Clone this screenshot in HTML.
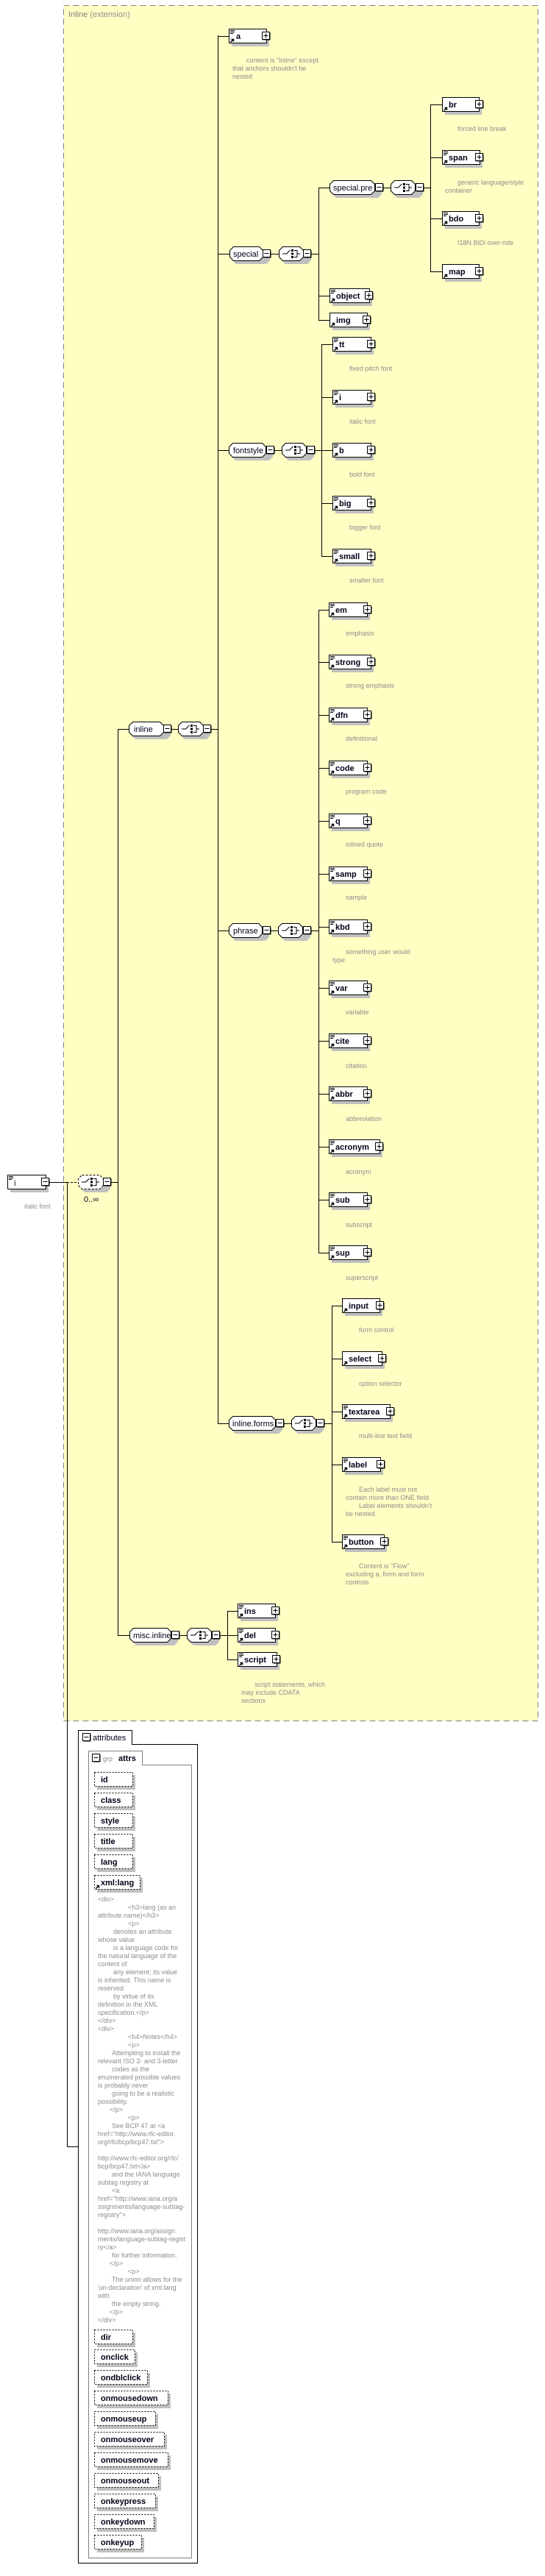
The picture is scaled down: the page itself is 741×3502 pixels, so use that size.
<!DOCTYPE html>
<html><head><meta charset="utf-8"><style>
html,body{margin:0;padding:0;background:#fff;}
svg{display:block;}
.n{font:bold 11px "Liberation Sans",sans-serif;fill:#000018;}
.g{font:11px "Liberation Sans",sans-serif;fill:#000018;}
.c{font:9px "Liberation Sans",sans-serif;fill:#8c8c8c;}
.t{font:11px "Liberation Sans",sans-serif;fill:#808080;}
</style></head><body>
<svg width="741" height="3502" viewBox="0 0 741 3502" xmlns="http://www.w3.org/2000/svg">
<defs>
<g id="plus"><rect x="1.5" y="1.5" width="10" height="10" fill="#000"/><rect x="0.5" y="0.5" width="10" height="10" fill="#fff" stroke="#000"/><path d="M2.5 5.5h6M5.5 2.5v6" stroke="#000"/></g>
<g id="minus"><rect x="1.5" y="1.5" width="10" height="10" fill="#000"/><rect x="0.5" y="0.5" width="10" height="10" fill="#fff" stroke="#000"/><path d="M2.5 5.5h6" stroke="#000"/></g>
<g id="doc"><path d="M2 2.5h6M2 4.5h6M2 6.5h4" stroke="#000"/></g>
<g id="arr"><path d="M2.5 18.5l4-4M3.5 14.5h3v3" stroke="#000" fill="none" stroke-width="1.5"/></g>
<g id="cho"><path d="M1 10h5.5l5-5" stroke="#000" fill="none"/><rect x="13" y="4" width="3" height="3"/><rect x="13" y="8.5" width="3" height="3"/><rect x="13" y="13" width="3" height="3"/><path d="M17 5.5h4v9h-4M21 10h4" stroke="#000" fill="none"/></g>
</defs>

<!-- yellow extension box -->
<rect x="86.5" y="7.5" width="645" height="2332" fill="#ffffc4" stroke="#808080" stroke-dasharray="8,5"/>
<text x="93" y="23" class="t">Inline <tspan fill="#909090">(extension)</tspan></text>

<g stroke="#000" fill="none">
<!-- root connections -->
<path d="M67 1607.5H91M91.5 1607V2918.5H106"/>
<path d="M91 1607.5h15" stroke-dasharray="3,2"/>
<path d="M151 1607.5h9M160.5 991V2223M160 991.5h15M160 2223.5h16"/>
<!-- inline -->
<path d="M233 991.5h9M287 991.5h9M296.5 48V1935M296 49.5h15M296 345.5h16M296 612.5h15M296 1265.5h15M296 1935.5h15"/>
<!-- special -->
<path d="M368 345.5h11M423 345.5h10M433.5 255V435M433 255.5h15M433 402.5h15M433 435.5h15"/>
<path d="M521 255.5h10M576 255.5h9M585.5 142V369M585 142.5h16M585 214.5h16M585 297.5h16M585 369.5h16"/>
<!-- fontstyle -->
<path d="M373 612.5h10M428 612.5h9M437.5 468V756M437 468.5h15M437 540.5h15M437 612.5h15M437 684.5h15M437 756.5h15"/>
<!-- phrase -->
<path d="M368 1265.5h10M423 1265.5h10M433.5 829V1703M433 829.5h14M433 900.5h14M433 972.5h14M433 1044.5h14M433 1116.5h14M433 1188.5h14M433 1260.5h14M433 1343.5h14M433 1415.5h14M433 1487.5h14M433 1559.5h14M433 1631.5h14M433 1703.5h14"/>
<!-- inline.forms -->
<path d="M386 1935.5h10M441 1935.5h10M451.5 1775V2096M451 1775.5h14M451 1847.5h14M451 1919.5h14M451 1991.5h14M451 2096.5h14"/>
<!-- misc.inline -->
<path d="M244 2223.5h10M299 2223.5h10M309.5 2190V2256M309 2190.5h14M309 2223.5h14M309 2256.5h14"/>
</g>

<!-- root i -->
<g transform="translate(10,1597)"><rect x="4" y="4" width="52" height="20" fill="#c0c0c0"/><rect x="0.5" y="0.5" width="52" height="19" fill="#fff" stroke="#000"/><use href="#doc"/><text x="9" y="15" class="g" font-size="12">i</text><use href="#minus" x="46" y="4"/></g>
<text x="33" y="1643" class="c" fill="#7a9ac0">italic font</text>
<!-- root choice dashed -->
<g transform="translate(106,1597)"><path d="M9 4h30l5 5v10l-5 5H9l-5-5V9z" fill="#c0c0c0"/><path d="M5.5 0.5h24l5 5v9l-5 5h-24l-5-5v-9z" fill="#fff" stroke="#000" stroke-dasharray="3,2"/><use href="#cho" x="4"/><use href="#minus" x="34" y="4"/></g>
<text x="114" y="1634" class="g" font-size="10">0..∞</text>

<!-- model group octagons -->
<g transform="translate(175,981)"><path d="M9 4h43l5 5v10l-5 5H9l-5-5V9z" fill="#c0c0c0"/><path d="M5.5 0.5h37l5 5v9l-5 5h-37l-5-5v-9z" fill="#fff" stroke="#000"/><text x="7" y="14" class="g">inline</text><use href="#minus" x="47" y="4"/></g>
<g transform="translate(242,981)"><path d="M9 4h30l5 5v10l-5 5H9l-5-5V9z" fill="#c0c0c0"/><path d="M5.5 0.5h24l5 5v9l-5 5h-24l-5-5v-9z" fill="#fff" stroke="#000"/><use href="#cho" x="4"/><use href="#minus" x="34" y="4"/></g>

<g transform="translate(312,335)"><path d="M9 4h41l5 5v10l-5 5H9l-5-5V9z" fill="#c0c0c0"/><path d="M5.5 0.5h35l5 5v9l-5 5h-35l-5-5v-9z" fill="#fff" stroke="#000"/><text x="5" y="14" class="g">special</text><use href="#minus" x="45" y="4"/></g>
<g transform="translate(379,335)"><path d="M9 4h30l5 5v10l-5 5H9l-5-5V9z" fill="#c0c0c0"/><path d="M5.5 0.5h23l5 5v9l-5 5h-23l-5-5v-9z" fill="#fff" stroke="#000"/><use href="#cho" x="4"/><use href="#minus" x="33" y="4"/></g>

<g transform="translate(448,245)"><path d="M9 4h57l5 5v10l-5 5H9l-5-5V9z" fill="#c0c0c0"/><path d="M5.5 0.5h51l5 5v9l-5 5h-51l-5-5v-9z" fill="#fff" stroke="#000"/><text x="5" y="14" class="g">special.pre</text><use href="#minus" x="62" y="4"/></g>
<g transform="translate(531,245)"><path d="M9 4h30l5 5v10l-5 5H9l-5-5V9z" fill="#c0c0c0"/><path d="M5.5 0.5h23l5 5v9l-5 5h-23l-5-5v-9z" fill="#fff" stroke="#000"/><use href="#cho" x="4"/><use href="#minus" x="34" y="4"/></g>

<g transform="translate(311,602)"><path d="M9 4h46l5 5v10l-5 5H9l-5-5V9z" fill="#c0c0c0"/><path d="M5.5 0.5h40l5 5v9l-5 5h-40l-5-5v-9z" fill="#fff" stroke="#000"/><text x="6" y="14" class="g">fontstyle</text><use href="#minus" x="51" y="4"/></g>
<g transform="translate(383,602)"><path d="M9 4h30l5 5v10l-5 5H9l-5-5V9z" fill="#c0c0c0"/><path d="M5.5 0.5h23l5 5v9l-5 5h-23l-5-5v-9z" fill="#fff" stroke="#000"/><use href="#cho" x="4"/><use href="#minus" x="34" y="4"/></g>

<g transform="translate(311,1255)"><path d="M9 4h41l5 5v10l-5 5H9l-5-5V9z" fill="#c0c0c0"/><path d="M5.5 0.5h35l5 5v9l-5 5h-35l-5-5v-9z" fill="#fff" stroke="#000"/><text x="6" y="14" class="g">phrase</text><use href="#minus" x="46" y="4"/></g>
<g transform="translate(378,1255)"><path d="M9 4h30l5 5v10l-5 5H9l-5-5V9z" fill="#c0c0c0"/><path d="M5.5 0.5h23l5 5v9l-5 5h-23l-5-5v-9z" fill="#fff" stroke="#000"/><use href="#cho" x="4"/><use href="#minus" x="34" y="4"/></g>

<g transform="translate(311,1925)"><path d="M9 4h59l5 5v10l-5 5H9l-5-5V9z" fill="#c0c0c0"/><path d="M5.5 0.5h53l5 5v9l-5 5h-53l-5-5v-9z" fill="#fff" stroke="#000"/><text x="5" y="14" class="g">inline.forms</text><use href="#minus" x="64" y="4"/></g>
<g transform="translate(396,1925)"><path d="M9 4h30l5 5v10l-5 5H9l-5-5V9z" fill="#c0c0c0"/><path d="M5.5 0.5h23l5 5v9l-5 5h-23l-5-5v-9z" fill="#fff" stroke="#000"/><use href="#cho" x="4"/><use href="#minus" x="34" y="4"/></g>

<g transform="translate(176,2213)"><path d="M9 4h52l5 5v10l-5 5H9l-5-5V9z" fill="#c0c0c0"/><path d="M5.5 0.5h46l5 5v9l-5 5h-46l-5-5v-9z" fill="#fff" stroke="#000"/><text x="5" y="14" class="g">misc.inline</text><use href="#minus" x="57" y="4"/></g>
<g transform="translate(254,2213)"><path d="M9 4h30l5 5v10l-5 5H9l-5-5V9z" fill="#c0c0c0"/><path d="M5.5 0.5h23l5 5v9l-5 5h-23l-5-5v-9z" fill="#fff" stroke="#000"/><use href="#cho" x="4"/><use href="#minus" x="34" y="4"/></g>

<!-- elements -->
<g transform="translate(311,39)"><rect x="4" y="4" width="51" height="20" fill="#c0c0c0"/><rect x="0.5" y="0.5" width="51" height="19" fill="#fff" stroke="#000"/><use href="#doc"/><use href="#arr"/><text x="10" y="14" class="n">a</text><use href="#plus" x="45" y="4"/></g>
<g transform="translate(601,132)"><rect x="4" y="4" width="50" height="20" fill="#c0c0c0"/><rect x="0.5" y="0.5" width="50" height="19" fill="#fff" stroke="#000"/><use href="#arr"/><text x="9" y="14" class="n">br</text><use href="#plus" x="45" y="4"/></g>
<g transform="translate(601,204)"><rect x="4" y="4" width="51" height="20" fill="#c0c0c0"/><rect x="0.5" y="0.5" width="51" height="19" fill="#fff" stroke="#000"/><use href="#doc"/><use href="#arr"/><text x="9" y="14" class="n">span</text><use href="#plus" x="45" y="4"/></g>
<g transform="translate(601,287)"><rect x="4" y="4" width="50" height="20" fill="#c0c0c0"/><rect x="0.5" y="0.5" width="50" height="19" fill="#fff" stroke="#000"/><use href="#doc"/><use href="#arr"/><text x="9" y="14" class="n">bdo</text><use href="#plus" x="45" y="4"/></g>
<g transform="translate(601,359)"><rect x="4" y="4" width="50" height="20" fill="#c0c0c0"/><rect x="0.5" y="0.5" width="50" height="19" fill="#fff" stroke="#000"/><use href="#arr"/><text x="9" y="14" class="n">map</text><use href="#plus" x="45" y="4"/></g>
<g transform="translate(448,392)"><rect x="4" y="4" width="54" height="20" fill="#c0c0c0"/><rect x="0.5" y="0.5" width="54" height="19" fill="#fff" stroke="#000"/><use href="#doc"/><use href="#arr"/><text x="9" y="14" class="n">object</text><use href="#plus" x="48" y="4"/></g>
<g transform="translate(448,425)"><rect x="4" y="4" width="51" height="20" fill="#c0c0c0"/><rect x="0.5" y="0.5" width="51" height="19" fill="#fff" stroke="#000"/><use href="#arr"/><text x="9" y="14" class="n">img</text><use href="#plus" x="45" y="4"/></g>

<g transform="translate(452,458)"><rect x="4" y="4" width="52" height="20" fill="#c0c0c0"/><rect x="0.5" y="0.5" width="52" height="19" fill="#fff" stroke="#000"/><use href="#doc"/><use href="#arr"/><text x="9" y="14" class="n">tt</text><use href="#plus" x="47" y="4"/></g>
<g transform="translate(452,530)"><rect x="4" y="4" width="52" height="20" fill="#c0c0c0"/><rect x="0.5" y="0.5" width="52" height="19" fill="#fff" stroke="#000"/><use href="#doc"/><use href="#arr"/><text x="9" y="14" class="n">i</text><use href="#plus" x="47" y="4"/></g>
<g transform="translate(452,602)"><rect x="4" y="4" width="52" height="20" fill="#c0c0c0"/><rect x="0.5" y="0.5" width="52" height="19" fill="#fff" stroke="#000"/><use href="#doc"/><use href="#arr"/><text x="9" y="14" class="n">b</text><use href="#plus" x="47" y="4"/></g>
<g transform="translate(452,674)"><rect x="4" y="4" width="52" height="20" fill="#c0c0c0"/><rect x="0.5" y="0.5" width="52" height="19" fill="#fff" stroke="#000"/><use href="#doc"/><use href="#arr"/><text x="9" y="14" class="n">big</text><use href="#plus" x="47" y="4"/></g>
<g transform="translate(452,746)"><rect x="4" y="4" width="52" height="20" fill="#c0c0c0"/><rect x="0.5" y="0.5" width="52" height="19" fill="#fff" stroke="#000"/><use href="#doc"/><use href="#arr"/><text x="9" y="14" class="n">small</text><use href="#plus" x="47" y="4"/></g>

<g transform="translate(447,819)"><rect x="4" y="4" width="52" height="20" fill="#c0c0c0"/><rect x="0.5" y="0.5" width="52" height="19" fill="#fff" stroke="#000"/><use href="#doc"/><use href="#arr"/><text x="9" y="14" class="n">em</text><use href="#plus" x="47" y="4"/></g>
<g transform="translate(447,890)"><rect x="4" y="4" width="57" height="20" fill="#c0c0c0"/><rect x="0.5" y="0.5" width="57" height="19" fill="#fff" stroke="#000"/><use href="#doc"/><use href="#arr"/><text x="9" y="14" class="n">strong</text><use href="#plus" x="52" y="4"/></g>
<g transform="translate(447,962)"><rect x="4" y="4" width="52" height="20" fill="#c0c0c0"/><rect x="0.5" y="0.5" width="52" height="19" fill="#fff" stroke="#000"/><use href="#doc"/><use href="#arr"/><text x="9" y="14" class="n">dfn</text><use href="#plus" x="47" y="4"/></g>
<g transform="translate(447,1034)"><rect x="4" y="4" width="52" height="20" fill="#c0c0c0"/><rect x="0.5" y="0.5" width="52" height="19" fill="#fff" stroke="#000"/><use href="#doc"/><use href="#arr"/><text x="9" y="14" class="n">code</text><use href="#plus" x="47" y="4"/></g>
<g transform="translate(447,1106)"><rect x="4" y="4" width="52" height="20" fill="#c0c0c0"/><rect x="0.5" y="0.5" width="52" height="19" fill="#fff" stroke="#000"/><use href="#doc"/><use href="#arr"/><text x="9" y="14" class="n">q</text><use href="#plus" x="47" y="4"/></g>
<g transform="translate(447,1178)"><rect x="4" y="4" width="52" height="20" fill="#c0c0c0"/><rect x="0.5" y="0.5" width="52" height="19" fill="#fff" stroke="#000"/><use href="#doc"/><use href="#arr"/><text x="9" y="14" class="n">samp</text><use href="#plus" x="47" y="4"/></g>
<g transform="translate(447,1250)"><rect x="4" y="4" width="52" height="20" fill="#c0c0c0"/><rect x="0.5" y="0.5" width="52" height="19" fill="#fff" stroke="#000"/><use href="#doc"/><use href="#arr"/><text x="9" y="14" class="n">kbd</text><use href="#plus" x="47" y="4"/></g>
<g transform="translate(447,1333)"><rect x="4" y="4" width="52" height="20" fill="#c0c0c0"/><rect x="0.5" y="0.5" width="52" height="19" fill="#fff" stroke="#000"/><use href="#doc"/><use href="#arr"/><text x="9" y="14" class="n">var</text><use href="#plus" x="47" y="4"/></g>
<g transform="translate(447,1405)"><rect x="4" y="4" width="52" height="20" fill="#c0c0c0"/><rect x="0.5" y="0.5" width="52" height="19" fill="#fff" stroke="#000"/><use href="#doc"/><use href="#arr"/><text x="9" y="14" class="n">cite</text><use href="#plus" x="47" y="4"/></g>
<g transform="translate(447,1477)"><rect x="4" y="4" width="52" height="20" fill="#c0c0c0"/><rect x="0.5" y="0.5" width="52" height="19" fill="#fff" stroke="#000"/><use href="#doc"/><use href="#arr"/><text x="9" y="14" class="n">abbr</text><use href="#plus" x="47" y="4"/></g>
<g transform="translate(447,1549)"><rect x="4" y="4" width="69" height="20" fill="#c0c0c0"/><rect x="0.5" y="0.5" width="69" height="19" fill="#fff" stroke="#000"/><use href="#doc"/><use href="#arr"/><text x="9" y="14" class="n">acronym</text><use href="#plus" x="63" y="4"/></g>
<g transform="translate(447,1621)"><rect x="4" y="4" width="52" height="20" fill="#c0c0c0"/><rect x="0.5" y="0.5" width="52" height="19" fill="#fff" stroke="#000"/><use href="#doc"/><use href="#arr"/><text x="9" y="14" class="n">sub</text><use href="#plus" x="47" y="4"/></g>
<g transform="translate(447,1693)"><rect x="4" y="4" width="52" height="20" fill="#c0c0c0"/><rect x="0.5" y="0.5" width="52" height="19" fill="#fff" stroke="#000"/><use href="#doc"/><use href="#arr"/><text x="9" y="14" class="n">sup</text><use href="#plus" x="47" y="4"/></g>

<g transform="translate(465,1765)"><rect x="4" y="4" width="51" height="20" fill="#c0c0c0"/><rect x="0.5" y="0.5" width="51" height="19" fill="#fff" stroke="#000"/><use href="#arr"/><text x="9" y="14" class="n">input</text><use href="#plus" x="46" y="4"/></g>
<g transform="translate(465,1837)"><rect x="4" y="4" width="54" height="20" fill="#c0c0c0"/><rect x="0.5" y="0.5" width="54" height="19" fill="#fff" stroke="#000"/><use href="#arr"/><text x="9" y="14" class="n">select</text><use href="#plus" x="49" y="4"/></g>
<g transform="translate(465,1909)"><rect x="4" y="4" width="65" height="20" fill="#c0c0c0"/><rect x="0.5" y="0.5" width="65" height="19" fill="#fff" stroke="#000"/><use href="#doc"/><use href="#arr"/><text x="9" y="14" class="n">textarea</text><use href="#plus" x="60" y="4"/></g>
<g transform="translate(465,1981)"><rect x="4" y="4" width="52" height="20" fill="#c0c0c0"/><rect x="0.5" y="0.5" width="52" height="19" fill="#fff" stroke="#000"/><use href="#doc"/><use href="#arr"/><text x="9" y="14" class="n">label</text><use href="#plus" x="47" y="4"/></g>
<g transform="translate(465,2086)"><rect x="4" y="4" width="57" height="20" fill="#c0c0c0"/><rect x="0.5" y="0.5" width="57" height="19" fill="#fff" stroke="#000"/><use href="#doc"/><use href="#arr"/><text x="9" y="14" class="n">button</text><use href="#plus" x="52" y="4"/></g>

<g transform="translate(323,2180)"><rect x="4" y="4" width="51" height="20" fill="#c0c0c0"/><rect x="0.5" y="0.5" width="51" height="19" fill="#fff" stroke="#000"/><use href="#doc"/><use href="#arr"/><text x="9" y="14" class="n">ins</text><use href="#plus" x="46" y="4"/></g>
<g transform="translate(323,2213)"><rect x="4" y="4" width="51" height="20" fill="#c0c0c0"/><rect x="0.5" y="0.5" width="51" height="19" fill="#fff" stroke="#000"/><use href="#doc"/><use href="#arr"/><text x="9" y="14" class="n">del</text><use href="#plus" x="46" y="4"/></g>
<g transform="translate(323,2246)"><rect x="4" y="4" width="53" height="20" fill="#c0c0c0"/><rect x="0.5" y="0.5" width="53" height="19" fill="#fff" stroke="#000"/><use href="#doc"/><use href="#arr"/><text x="9" y="14" class="n">script</text><use href="#plus" x="47" y="4"/></g>

<!-- comments -->
<g class="c">
<text x="335" y="85">content is "Inline" except</text>
<text x="316" y="96">that anchors shouldn't be</text>
<text x="316" y="107">nested</text>
<text x="622" y="178">forced line break</text>
<text x="622" y="251">generic language/style</text>
<text x="605" y="262">container</text>
<text x="622" y="333">I18N BiDi over-ride</text>
<text x="475" y="504">fixed pitch font</text>
<text x="475" y="576">italic font</text>
<text x="475" y="648">bold font</text>
<text x="475" y="720">bigger font</text>
<text x="475" y="792">smaller font</text>
<text x="470" y="864">emphasis</text>
<text x="470" y="935">strong emphasis</text>
<text x="470" y="1007">definitional</text>
<text x="470" y="1079">program code</text>
<text x="470" y="1151">inlined quote</text>
<text x="470" y="1223">sample</text>
<text x="470" y="1297">something user would</text>
<text x="452" y="1308">type</text>
<text x="470" y="1379">variable</text>
<text x="470" y="1452">citation</text>
<text x="470" y="1524">abbreviation</text>
<text x="470" y="1596">acronym</text>
<text x="470" y="1668">subscript</text>
<text x="470" y="1740">superscript</text>
<text x="488" y="1811">form control</text>
<text x="488" y="1884">option selector</text>
<text x="488" y="1955">multi-line text field</text>
<text x="488" y="2028">Each label must not</text>
<text x="470" y="2039">contain more than ONE field</text>
<text x="488" y="2050">Label elements shouldn't</text>
<text x="470" y="2061">be nested.</text>
<text x="488" y="2132">Content is "Flow"</text>
<text x="470" y="2143">excluding a, form and form</text>
<text x="470" y="2154">controls</text>
<text x="346" y="2293">script statements, which</text>
<text x="328" y="2304">may include CDATA</text>
<text x="328" y="2315">sections</text>
</g>

<!-- attributes panel -->
<path d="M106.5 3484.5V2352.5H179.5V2371.5H268.5V3484.5Z" fill="#fff" stroke="#000"/>
<use href="#minus" x="112" y="2356"/>
<text x="126" y="2366" class="g" font-style="italic">attributes</text>
<path d="M120.5 3477.5V2380.5H193.5V2399.5H260.5V3477.5Z" fill="#fff" stroke="#808080"/>
<use href="#minus" x="125" y="2384"/>
<text x="140" y="2394" class="c" font-size="10">grp</text>
<text x="161" y="2394" class="n">attrs</text>

<g class="n">
<g transform="translate(128,2409)"><rect x="4" y="4" width="52" height="20" fill="#c0c0c0"/><rect x="0.5" y="0.5" width="52" height="19" fill="#fff" stroke="#000" stroke-dasharray="2,2"/><text x="9" y="14">id</text></g>
<g transform="translate(128,2437)"><rect x="4" y="4" width="52" height="20" fill="#c0c0c0"/><rect x="0.5" y="0.5" width="52" height="19" fill="#fff" stroke="#000" stroke-dasharray="2,2"/><text x="9" y="14">class</text></g>
<g transform="translate(128,2465)"><rect x="4" y="4" width="52" height="20" fill="#c0c0c0"/><rect x="0.5" y="0.5" width="52" height="19" fill="#fff" stroke="#000" stroke-dasharray="2,2"/><text x="9" y="14">style</text></g>
<g transform="translate(128,2493)"><rect x="4" y="4" width="52" height="20" fill="#c0c0c0"/><rect x="0.5" y="0.5" width="52" height="19" fill="#fff" stroke="#000" stroke-dasharray="2,2"/><text x="9" y="14">title</text></g>
<g transform="translate(128,2521)"><rect x="4" y="4" width="52" height="20" fill="#c0c0c0"/><rect x="0.5" y="0.5" width="52" height="19" fill="#fff" stroke="#000" stroke-dasharray="2,2"/><text x="9" y="14">lang</text></g>
<g transform="translate(128,2549)"><rect x="4" y="4" width="62" height="20" fill="#c0c0c0"/><rect x="0.5" y="0.5" width="62" height="19" fill="#fff" stroke="#000" stroke-dasharray="2,2"/><use href="#arr"/><text x="9" y="14">xml:lang</text></g>
<g transform="translate(128,3167)"><rect x="4" y="4" width="52" height="20" fill="#c0c0c0"/><rect x="0.5" y="0.5" width="52" height="19" fill="#fff" stroke="#000" stroke-dasharray="2,2"/><text x="9" y="14">dir</text></g>
<g transform="translate(128,3194)"><rect x="4" y="4" width="55" height="20" fill="#c0c0c0"/><rect x="0.5" y="0.5" width="55" height="19" fill="#fff" stroke="#000" stroke-dasharray="2,2"/><text x="9" y="14">onclick</text></g>
<g transform="translate(128,3222)"><rect x="4" y="4" width="72" height="20" fill="#c0c0c0"/><rect x="0.5" y="0.5" width="72" height="19" fill="#fff" stroke="#000" stroke-dasharray="2,2"/><text x="9" y="14">ondblclick</text></g>
<g transform="translate(128,3250)"><rect x="4" y="4" width="100" height="20" fill="#c0c0c0"/><rect x="0.5" y="0.5" width="100" height="19" fill="#fff" stroke="#000" stroke-dasharray="2,2"/><text x="9" y="14">onmousedown</text></g>
<g transform="translate(128,3278)"><rect x="4" y="4" width="83" height="20" fill="#c0c0c0"/><rect x="0.5" y="0.5" width="83" height="19" fill="#fff" stroke="#000" stroke-dasharray="2,2"/><text x="9" y="14">onmouseup</text></g>
<g transform="translate(128,3306)"><rect x="4" y="4" width="95" height="20" fill="#c0c0c0"/><rect x="0.5" y="0.5" width="95" height="19" fill="#fff" stroke="#000" stroke-dasharray="2,2"/><text x="9" y="14">onmouseover</text></g>
<g transform="translate(128,3334)"><rect x="4" y="4" width="100" height="20" fill="#c0c0c0"/><rect x="0.5" y="0.5" width="100" height="19" fill="#fff" stroke="#000" stroke-dasharray="2,2"/><text x="9" y="14">onmousemove</text></g>
<g transform="translate(128,3362)"><rect x="4" y="4" width="87" height="20" fill="#c0c0c0"/><rect x="0.5" y="0.5" width="87" height="19" fill="#fff" stroke="#000" stroke-dasharray="2,2"/><text x="9" y="14">onmouseout</text></g>
<g transform="translate(128,3390)"><rect x="4" y="4" width="83" height="20" fill="#c0c0c0"/><rect x="0.5" y="0.5" width="83" height="19" fill="#fff" stroke="#000" stroke-dasharray="2,2"/><text x="9" y="14">onkeypress</text></g>
<g transform="translate(128,3418)"><rect x="4" y="4" width="81" height="20" fill="#c0c0c0"/><rect x="0.5" y="0.5" width="81" height="19" fill="#fff" stroke="#000" stroke-dasharray="2,2"/><text x="9" y="14">onkeydown</text></g>
<g transform="translate(128,3446)"><rect x="4" y="4" width="64" height="20" fill="#c0c0c0"/><rect x="0.5" y="0.5" width="64" height="19" fill="#fff" stroke="#000" stroke-dasharray="2,2"/><text x="9" y="14">onkeyup</text></g>
</g>

<g class="c" font-size="8.6">
<text x="133" y="2585">&lt;div&gt;</text>
<text x="174" y="2596">&lt;h3&gt;lang (as an</text>
<text x="133" y="2607">attribute name)&lt;/h3&gt;</text>
<text x="174" y="2618">&lt;p&gt;</text>
<text x="154" y="2629">denotes an attribute</text>
<text x="133" y="2640">whose value</text>
<text x="154" y="2651">is a language code for</text>
<text x="133" y="2662">the natural language of the</text>
<text x="133" y="2673">content of</text>
<text x="154" y="2684">any element; its value</text>
<text x="133" y="2695">is inherited.  This name is</text>
<text x="133" y="2706">reserved</text>
<text x="154" y="2717">by virtue of its</text>
<text x="133" y="2728">definition in the XML</text>
<text x="133" y="2739">specification.&lt;/p&gt;</text>
<text x="133" y="2750">&lt;/div&gt;</text>
<text x="133" y="2761">&lt;div&gt;</text>
<text x="174" y="2772">&lt;h4&gt;Notes&lt;/h4&gt;</text>
<text x="174" y="2783">&lt;p&gt;</text>
<text x="152" y="2794">Attempting to install the</text>
<text x="133" y="2805">relevant ISO 2- and 3-letter</text>
<text x="152" y="2816">codes as the</text>
<text x="133" y="2827">enumerated possible values</text>
<text x="133" y="2838">is probably never</text>
<text x="152" y="2849">going to be a realistic</text>
<text x="133" y="2860">possibility.</text>
<text x="149" y="2871">&lt;/p&gt;</text>
<text x="174" y="2882">&lt;p&gt;</text>
<text x="152" y="2893">See BCP 47 at &lt;a</text>
<text x="133" y="2904">href="http://www.rfc-editor.</text>
<text x="133" y="2915">org/rfc/bcp/bcp47.txt"&gt;</text>
<text x="133" y="2937">http://www.rfc-editor.org/rfc/</text>
<text x="133" y="2948">bcp/bcp47.txt&lt;/a&gt;</text>
<text x="152" y="2959">and the IANA language</text>
<text x="133" y="2970">subtag registry at</text>
<text x="152" y="2981">&lt;a</text>
<text x="133" y="2992">href="http://www.iana.org/a</text>
<text x="133" y="3003">ssignments/language-subtag-</text>
<text x="133" y="3014">registry"&gt;</text>
<text x="133" y="3036">http://www.iana.org/assign</text>
<text x="133" y="3047">ments/language-subtag-regist</text>
<text x="133" y="3058">ry&lt;/a&gt;</text>
<text x="152" y="3069">for further information.</text>
<text x="149" y="3080">&lt;/p&gt;</text>
<text x="174" y="3091">&lt;p&gt;</text>
<text x="152" y="3102">The union allows for the</text>
<text x="133" y="3113">'un-declaration' of xml:lang</text>
<text x="133" y="3124">with</text>
<text x="152" y="3135">the empty string.</text>
<text x="149" y="3146">&lt;/p&gt;</text>
<text x="133" y="3157">&lt;/div&gt;</text>
</g>
</svg>
</body></html>
